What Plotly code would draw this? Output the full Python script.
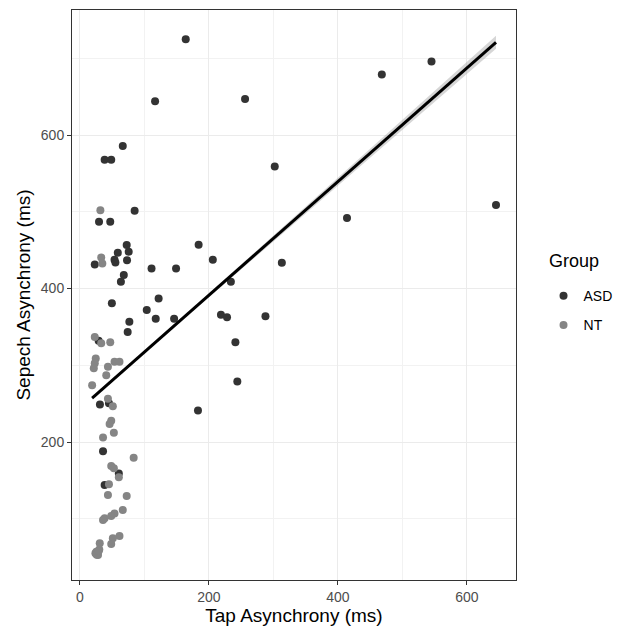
import numpy as np
import plotly.graph_objects as go

# ---- data ----
asd_tap = [164, 116.5, 256, 468, 545, 302, 645, 414, 184, 206, 234, 313, 218.6, 228, 287.6,
           241, 244, 183, 66.4, 38.3, 48.5, 84.8, 29.6, 47, 72.5, 75.6, 58.7, 53.6, 55, 73,
           23, 111, 149, 68, 63.5, 49.5, 122, 103.6, 117.5, 146, 76.6, 74, 29, 31, 45,
           35.8, 60.3, 38.3]
asd_speech = [725, 644, 647, 679, 696, 559, 509, 492, 457, 437.5, 409, 433.6, 366, 362.5, 363.8,
              330, 279, 241, 585.7, 568, 568, 501.5, 487, 487, 456.7, 448, 446.6, 437.5, 434, 437,
              431.5, 426, 426, 417.6, 409, 380.7, 387, 372, 360.5, 360.6, 356.7, 343.5, 332, 249, 250.4,
              188, 159, 144]

nt_tap = [31.7, 33, 34.7, 23, 33, 47, 24.5, 23, 21.5, 53.6, 61.3, 43.4, 40.8, 18.9, 43.4,
          51, 48.5, 46, 52.6, 35.8, 83.3, 48.5, 52.6, 60.3, 45, 43.4, 72.5, 66.4, 53.6, 48.5,
          38.3, 35.8, 61.3, 51, 48.5, 30.7, 25.5, 28, 24, 30, 27, 26, 29]
nt_speech = [502, 440.6, 432.5, 337, 328.6, 330, 309, 302.5, 296, 304.6, 304.6, 298, 287, 274, 256.5,
             246.5, 227.8, 223.5, 212, 206, 179.6, 168.7, 165.7, 154, 145, 131, 129.6, 111.4, 107, 103.6,
             100.6, 98.4, 77.5, 74.5, 67, 68, 57, 52.8, 55, 60, 56, 53, 58]

groups = ["ASD", "NT"]
x_ticks = [0, 200, 400, 600]
y_ticks = [200, 400, 600]
trials_per_participant = 300   # repeated trials behind each plotted point (narrow CI band)

# ---- linear fit with 95% CI (like geom_smooth(method="lm")) ----
xa = np.array(asd_tap + nt_tap, dtype=float)
ya = np.array(asd_speech + nt_speech, dtype=float)
b1, b0 = np.polyfit(xa, ya, 1)
n = len(xa) * trials_per_participant
resid = ya - (b0 + b1 * xa)
s = np.sqrt(np.sum(resid ** 2) * trials_per_participant / (n - 2))
xbar = xa.mean()
sxx = np.sum((xa - xbar) ** 2) * trials_per_participant
xf = np.linspace(xa.min(), xa.max(), 80)
yf = b0 + b1 * xf
se = s * np.sqrt(1.0 / n + (xf - xbar) ** 2 / sxx)
tval = 1.96
lo = yf - tval * se
hi = yf + tval * se

FONT = "Liberation Sans, Arial, Helvetica, sans-serif"
fig = go.Figure()

fig.add_trace(go.Scatter(
    x=np.concatenate([xf, xf[::-1]]), y=np.concatenate([hi, lo[::-1]]),
    fill="toself", fillcolor="rgba(153,153,153,0.4)", line=dict(width=0),
    mode="lines", showlegend=False, hoverinfo="skip"))

fig.add_trace(go.Scatter(x=asd_tap, y=asd_speech, mode="markers", name=groups[0],
                         legendgroup="a",
                         marker=dict(color="#333333", size=8, line=dict(width=0))))
fig.add_trace(go.Scatter(x=nt_tap, y=nt_speech, mode="markers", name=groups[1],
                         legendgroup="b",
                         marker=dict(color="#858585", size=8, line=dict(width=0))))

fig.add_trace(go.Scatter(x=xf, y=yf, mode="lines", line=dict(color="black", width=3),
                         showlegend=False, hoverinfo="skip"))

axis_common = dict(
    showline=True, linecolor="#333333", linewidth=1, mirror=True,
    ticks="outside", ticklen=4, tickcolor="#333333", tickwidth=1,
    tickfont=dict(family=FONT, size=14, color="#4D4D4D"),
    showgrid=True, gridcolor="#EBEBEB", gridwidth=1, zeroline=False,
)

fig.update_layout(
    width=627, height=635,
    margin=dict(l=72, r=106, t=10, b=55),
    paper_bgcolor="white", plot_bgcolor="white",
    font=dict(family=FONT),
    xaxis=dict(axis_common, range=[-12.3, 676], tickvals=x_ticks,
               minor=dict(tickvals=[100, 300, 500], showgrid=True, gridcolor="#F2F2F2",
                          gridwidth=0.7, ticks=""),
               title=dict(text="Tap Asynchrony (ms)", font=dict(family=FONT, size=19, color="black"),
                          standoff=3)),
    yaxis=dict(axis_common, range=[20.2, 763], tickvals=y_ticks,
               minor=dict(tickvals=[100, 300, 500, 700], showgrid=True, gridcolor="#F2F2F2",
                          gridwidth=0.7, ticks=""),
               title=dict(text="Sepech Asynchrony (ms)", font=dict(family=FONT, size=19, color="black"),
                          standoff=5)),
    legend=dict(x=1.062, y=0.526, xanchor="left", yanchor="top",
                font=dict(family=FONT, size=14, color="black"),
                tracegroupgap=8, bgcolor="rgba(0,0,0,0)"),
    annotations=[dict(text="Group", xref="paper", yref="paper", x=1.069, y=0.5596,
                      xanchor="left", yanchor="middle", showarrow=False,
                      font=dict(family=FONT, size=18, color="black"))],
)

fig.write_html("out.html")
